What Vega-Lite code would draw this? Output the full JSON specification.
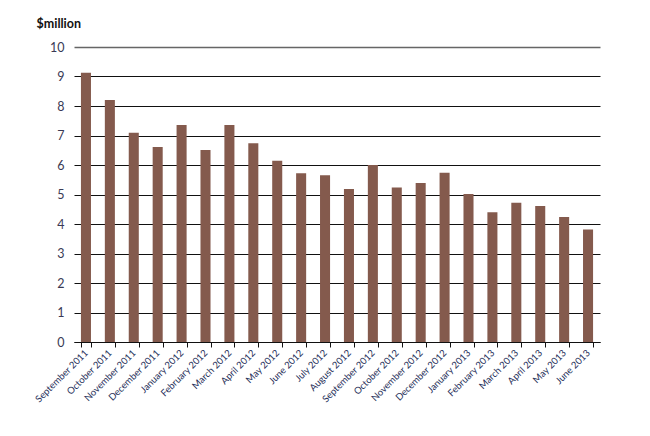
{
  "$schema": "https://vega.github.io/schema/vega-lite/v6.json",
  "autosize": "none",
  "width": 526,
  "height": 295,
  "padding": {"left": 74, "top": 47, "right": 50, "bottom": 94},
  "background": "white",
  "data": {
    "values": [
      {"month": "September 2011", "value": 9.13},
      {"month": "October 2011", "value": 8.2},
      {"month": "November 2011", "value": 7.09},
      {"month": "December 2011", "value": 6.61},
      {"month": "January 2012", "value": 7.36},
      {"month": "February 2012", "value": 6.51},
      {"month": "March 2012", "value": 7.36},
      {"month": "April 2012", "value": 6.74},
      {"month": "May 2012", "value": 6.14},
      {"month": "June 2012", "value": 5.72},
      {"month": "July 2012", "value": 5.65},
      {"month": "August 2012", "value": 5.19},
      {"month": "September 2012", "value": 6.0},
      {"month": "October 2012", "value": 5.24},
      {"month": "November 2012", "value": 5.39},
      {"month": "December 2012", "value": 5.74},
      {"month": "January 2013", "value": 5.02},
      {"month": "February 2013", "value": 4.4},
      {"month": "March 2013", "value": 4.72},
      {"month": "April 2013", "value": 4.61},
      {"month": "May 2013", "value": 4.24},
      {"month": "June 2013", "value": 3.81}
    ]
  },
  "mark": {"type": "bar", "color": "#845a4d"},
  "encoding": {
    "x": {
      "field": "month",
      "type": "ordinal",
      "sort": null,
      "title": null,
      "scale": {"paddingInner": 0.58, "paddingOuter": 0.29},
      "axis": {
        "labelAngle": -45,
        "labelAlign": "right",
        "labelBaseline": "middle",
        "labelFont": "Lato",
        "labelFontSize": 9.5,
        "labelColor": "#27305a",
        "labelPadding": 4,
        "tickBand": "extent",
        "tickSize": 5,
        "tickColor": "#111",
        "domainColor": "#111",
        "labelOverlap": false
      }
    },
    "y": {
      "field": "value",
      "type": "quantitative",
      "title": "$million",
      "scale": {"domain": [0, 10], "nice": false},
      "axis": {
        "values": [0, 1, 2, 3, 4, 5, 6, 7, 8, 9, 10],
        "domain": false,
        "ticks": false,
        "grid": true,
        "gridColor": {"condition": {"test": "datum.value == 10", "value": "#666"}, "value": "#111"},
        "gridWidth": {"condition": {"test": "datum.value == 10", "value": 1.4}, "value": 1},
        "labelFont": "Lato",
        "labelFontSize": 12.5,
        "labelColor": "#3a3a55",
        "labelPadding": 10,
        "titleAngle": 0,
        "titleAlign": "left",
        "titleBaseline": "alphabetic",
        "titleX": -38,
        "titleY": -20,
        "titleFont": "Lato",
        "titleFontSize": 12.5,
        "titleFontWeight": "bold",
        "titleColor": "#111"
      }
    }
  },
  "config": {
    "view": {"stroke": null},
    "axis": {"zindex": 0}
  }
}
